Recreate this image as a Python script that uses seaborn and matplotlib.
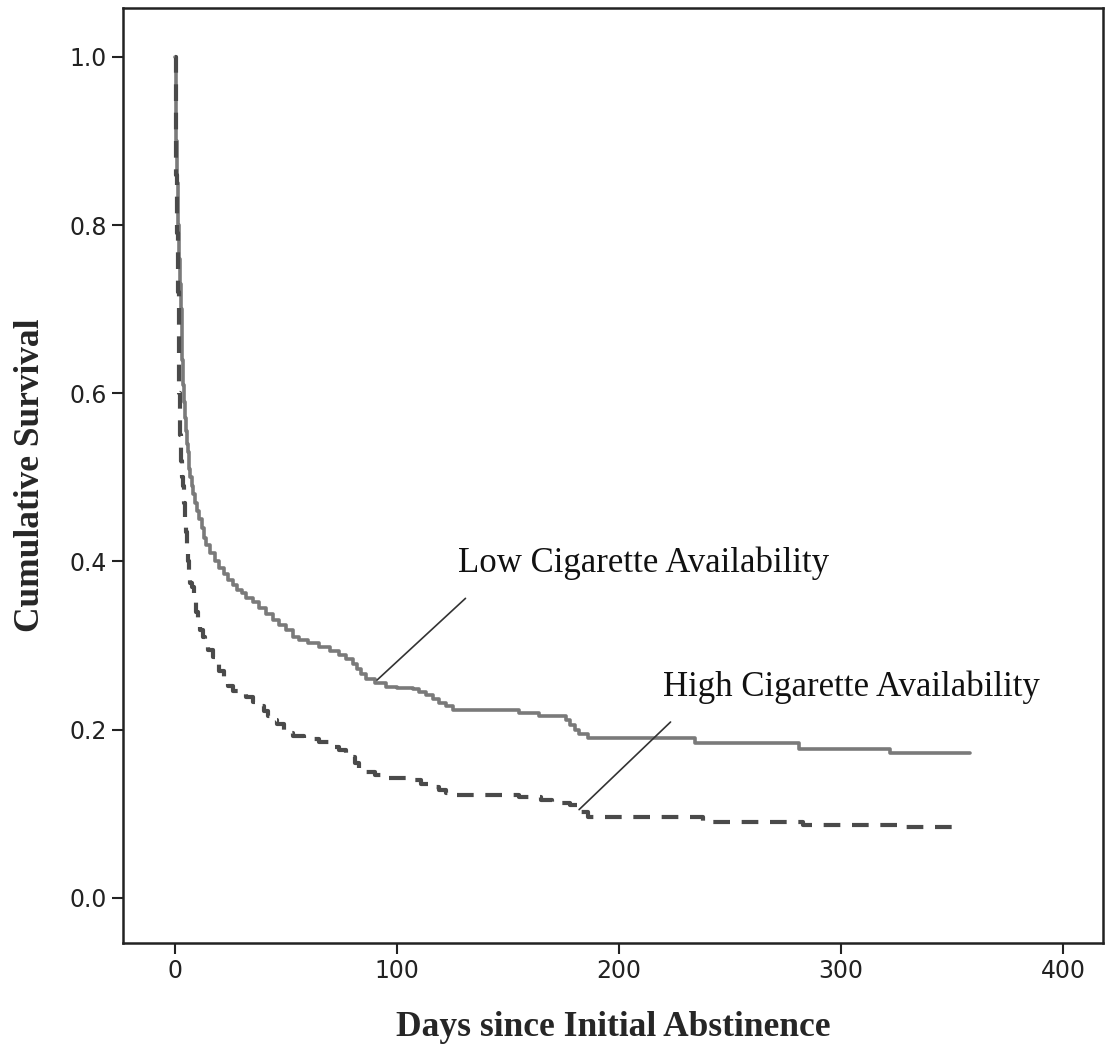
import matplotlib
matplotlib.use("Agg")
import matplotlib.pyplot as plt
import seaborn as sns
import pandas as pd

# Kaplan-Meier step points
low_days = [0, 0.3, 0.6, 1, 1.4, 1.8, 2.2, 2.6, 3, 3.3, 3.6, 4, 4.5, 5, 5.5, 6, 6.5, 7, 7.5, 8,
            9, 10, 11, 12, 13, 14, 16, 18, 20, 22, 24, 26, 28, 30, 32, 35, 38, 41, 44, 47,
            50, 53, 56, 60, 65, 70, 74, 77, 80, 82, 84, 86, 90, 95, 100, 107, 110, 113,
            116, 119, 122, 125, 155, 164, 176, 178, 180, 182, 186, 234, 281, 322, 358]
low_surv = [1.0, 0.95, 0.90, 0.85, 0.80, 0.76, 0.73, 0.70, 0.665, 0.64, 0.61, 0.59, 0.57,
            0.555, 0.54, 0.53, 0.51, 0.50, 0.49, 0.48, 0.47, 0.46, 0.45, 0.44, 0.428, 0.42,
            0.41, 0.40, 0.392, 0.385, 0.378, 0.372, 0.366, 0.362, 0.357, 0.352, 0.345,
            0.338, 0.331, 0.325, 0.318, 0.31, 0.307, 0.303, 0.298, 0.293, 0.289, 0.284,
            0.278, 0.272, 0.266, 0.260, 0.256, 0.251, 0.25, 0.248, 0.245, 0.241, 0.237,
            0.232, 0.228, 0.224, 0.220, 0.216, 0.212, 0.206, 0.20, 0.195, 0.190, 0.184,
            0.177, 0.172, 0.172]

high_days = [0, 0.3, 0.6, 1, 1.3, 1.6, 2, 2.3, 2.7, 3, 3.6, 4, 4.5, 5, 5.4, 5.8, 6.2, 7, 7.6,
             8.5, 9.5, 10.5, 11.5, 12.5, 13.5, 15, 17, 18.5, 20, 22, 24, 26, 29, 32, 35,
             38, 40, 42, 44, 46, 49, 51, 53, 58, 65, 70, 74, 77, 79, 81, 83, 85, 90, 95,
             107, 111, 115, 119, 122, 125, 155, 165, 170, 178, 181, 183, 186, 238, 283,
             325, 354]
high_surv = [1.0, 0.93, 0.86, 0.79, 0.72, 0.66, 0.60, 0.55, 0.52, 0.50, 0.49, 0.47, 0.45,
             0.435, 0.42, 0.40, 0.382, 0.375, 0.37, 0.355, 0.34, 0.328, 0.318, 0.31, 0.302,
             0.295, 0.287, 0.278, 0.27, 0.26, 0.252, 0.246, 0.242, 0.239, 0.233, 0.228,
             0.222, 0.216, 0.211, 0.207, 0.20, 0.196, 0.192, 0.189, 0.185, 0.18, 0.176,
             0.172, 0.167, 0.161, 0.155, 0.150, 0.146, 0.143, 0.140, 0.136, 0.132, 0.128,
             0.125, 0.122, 0.120, 0.116, 0.113, 0.110, 0.106, 0.102, 0.096, 0.090, 0.087,
             0.084, 0.084]

groups = ["Low Cigarette Availability", "High Cigarette Availability"]

df = pd.concat([
    pd.DataFrame({"days": low_days, "surv": low_surv, "group": groups[0]}),
    pd.DataFrame({"days": high_days, "surv": high_surv, "group": groups[1]}),
])

sns.set_style("ticks")
plt.rcParams["font.family"] = ["Liberation Sans Narrow", "DejaVu Sans"]

fig = plt.figure(figsize=(11.1, 10.51), dpi=100)
ax = fig.add_axes([0.1108, 0.1028, 0.883, 0.8896])

sns.lineplot(data=df[df.group == groups[0]], x="days", y="surv", color="#7a7a7a",
             linewidth=2.6, drawstyle="steps-post", ax=ax, legend=False)
sns.lineplot(data=df[df.group == groups[1]], x="days", y="surv", color="#4a4a4a",
             linewidth=3.0, drawstyle="steps-post", ax=ax, legend=False)
ax.lines[1].set_dashes((4, 2.8))

ax.set_xlim(-23.4, 418)
ax.set_ylim(-0.0535, 1.058)
ax.set_xticks([0, 100, 200, 300, 400])
ax.set_yticks([0.0, 0.2, 0.4, 0.6, 0.8, 1.0])
ax.set_yticklabels(["0.0", "0.2", "0.4", "0.6", "0.8", "1.0"])
ax.tick_params(labelsize=17, length=8, width=1.5, color="#222222", labelcolor="#222222")
for s in ax.spines.values():
    s.set_linewidth(1.8)
    s.set_color("#222222")

ax.set_xlabel("Days since Initial Abstinence", family="Liberation Serif",
              fontweight="bold", fontsize=25.5, labelpad=20)
ax.set_ylabel("Cumulative Survival", family="Liberation Serif",
              fontweight="bold", fontsize=25.5, labelpad=16)

ax.annotate(groups[0], xy=(91, 0.259), xytext=(127.5, 0.398),
            family="Liberation Serif", fontsize=25, color="#111111", va="center",
            arrowprops=dict(arrowstyle="-", color="#333333", lw=1.2,
                            shrinkA=0, shrinkB=0, relpos=(0.02, -0.55)))
ax.annotate(groups[1], xy=(182, 0.105), xytext=(219.8, 0.251),
            family="Liberation Serif", fontsize=25, color="#111111", va="center",
            arrowprops=dict(arrowstyle="-", color="#333333", lw=1.2,
                            shrinkA=0, shrinkB=0, relpos=(0.02, -0.55)))

fig.savefig("out.png", dpi=100)
